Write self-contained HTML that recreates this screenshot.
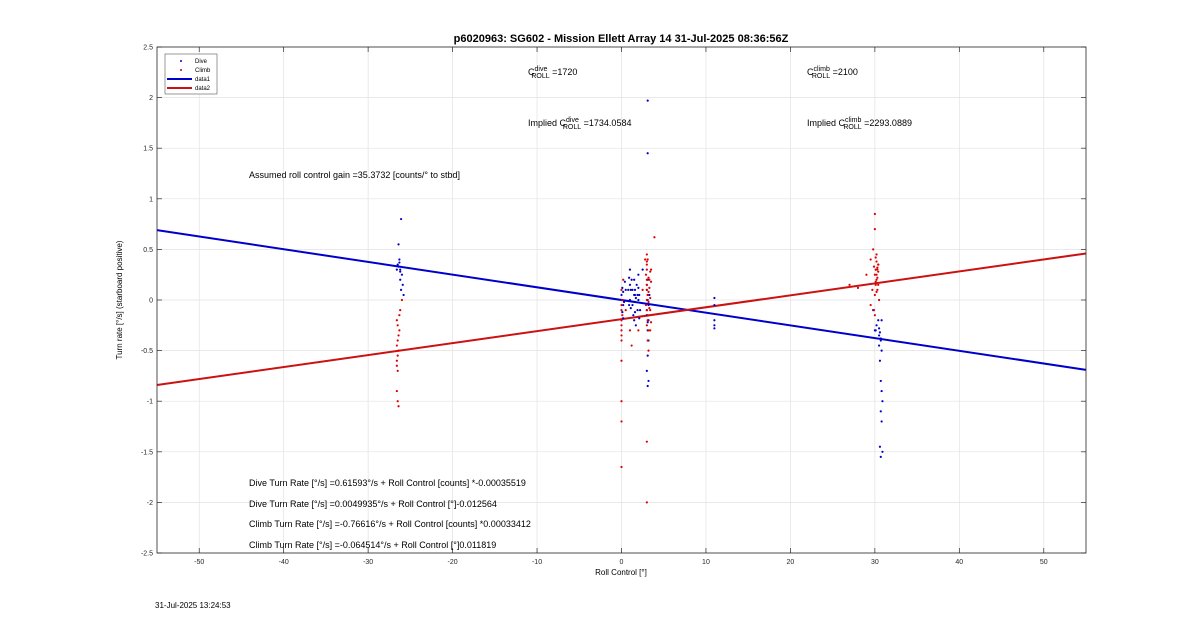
<!DOCTYPE html>
<html><head><meta charset="utf-8"><style>
body{margin:0;background:#fff;font-family:"Liberation Sans",sans-serif}
svg text{font-family:"Liberation Sans",sans-serif}
</style></head><body>
<svg id="chart" width="1200" height="622" xmlns="http://www.w3.org/2000/svg">
<rect width="1200" height="622" fill="#fff"/>
<g id="grid"></g>
<g id="marks"></g>
<rect x="157" y="47" width="929" height="506" fill="none" stroke="#262626" stroke-width="0.8"/>
<g id="ticks"></g>
<text x="621" y="42" text-anchor="middle" font-size="11" font-weight="bold">p6020963: SG602 - Mission Ellett Array 14 31-Jul-2025 08:36:56Z</text>
<text x="621" y="575" text-anchor="middle" font-size="8">Roll Control [°]</text>
<text transform="translate(122,300) rotate(-90)" text-anchor="middle" font-size="8">Turn rate [°/s] (starboard positive)</text>
<g font-size="9">
<text x="528" y="75">C<tspan font-size="7" dy="-4">dive</tspan><tspan font-size="7" dx="-16" dy="7">ROLL</tspan><tspan dy="-3"> =1720</tspan></text>
<text x="807" y="75">C<tspan font-size="7" dy="-4">climb</tspan><tspan font-size="7" dx="-18" dy="7">ROLL</tspan><tspan dy="-3"> =2100</tspan></text>
<text x="528" y="126">Implied C<tspan font-size="7" dy="-4">dive</tspan><tspan font-size="7" dx="-16" dy="7">ROLL</tspan><tspan dy="-3"> =1734.0584</tspan></text>
<text x="807" y="126">Implied C<tspan font-size="7" dy="-4">climb</tspan><tspan font-size="7" dx="-18" dy="7">ROLL</tspan><tspan dy="-3"> =2293.0889</tspan></text>
<text x="249" y="178">Assumed roll control gain =35.3732 [counts/° to stbd]</text>
<text x="249" y="486">Dive Turn Rate [°/s] =0.61593°/s + Roll Control [counts] *-0.00035519</text>
<text x="249" y="507">Dive Turn Rate [°/s] =0.0049935°/s + Roll Control [°]-0.012564</text>
<text x="249" y="527">Climb Turn Rate [°/s] =-0.76616°/s + Roll Control [counts] *0.00033412</text>
<text x="249" y="548">Climb Turn Rate [°/s] =-0.064514°/s + Roll Control [°]0.011819</text>
</g>
<g>
<rect x="165" y="54" width="52" height="40" fill="#fff" stroke="#555" stroke-width="0.6"/>
<circle cx="181" cy="61" r="1" fill="#0000cc"/><text x="195" y="63" font-size="6">Dive</text>
<circle cx="181" cy="70" r="1" fill="#cc0000"/><text x="195" y="72" font-size="6">Climb</text>
<line x1="167" y1="79" x2="192" y2="79" stroke="#0000cc" stroke-width="2"/><text x="195" y="81" font-size="6">data1</text>
<line x1="167" y1="88" x2="192" y2="88" stroke="#cc1111" stroke-width="2"/><text x="195" y="90" font-size="6">data2</text>
</g>
<text x="155" y="608" font-size="8">31-Jul-2025 13:24:53</text>
</svg>
<script>
const xTicks=[-50,-40,-30,-20,-10,0,10,20,30,40,50];
const yTicks=[-2.5,-2,-1.5,-1,-0.5,0,0.5,1,1.5,2,2.5];
const diveX=[-26.5,-26.3,-26.1,-26.4,-26.2,-26,-25.9,-26.6,-26.2,-26.1,-25.8,-26.4,-26.3,-26.2,0,0.2,0.5,1,1.2,1.5,1.8,2,2.2,1.6,1.4,0.8,2.5,3,3.1,3.2,3.1,3,3.2,3.1,3.3,3.1,3.2,11,11,11,11,11,30,30.2,30.5,30.7,30.8,30.6,30.7,30.8,30.9,30.7,30.8,30.6,30.9,30.7,30.8,29.8,30.1,3.1,3.1,
 0.1,0.1,0.2,0.2,0.9,0.9,1,1,1.1,1.1,1.5,1.5,1.6,1.6,1.7,1.7,2,2,2.1,2.1,0.3,0.4,1.3,1.3,1.9,1.9,3,3,3.1,3.1,3.2,30.5,30.6,30.4,30.7,30.5];
const diveY=[0.35,0.4,0.8,0.55,0.3,0.25,0.15,0.3,0.2,0.1,0.05,0.33,0.37,0.28,0.05,-0.05,0.1,0.3,0.2,-0.2,0.15,0.25,-0.1,0.05,-0.15,0.1,0.3,-0.1,-0.3,-0.4,-0.55,-0.7,-0.8,-0.85,0.05,0.2,-0.2,0.02,-0.05,-0.2,-0.25,-0.28,-0.3,-0.25,-0.35,-0.4,-0.5,-0.6,-0.8,-0.9,-1.0,-1.1,-1.2,-1.45,-1.5,-1.55,-0.2,-0.1,-0.3,1.97,1.45,
 0.12,-0.12,0.08,-0.18,0.22,-0.05,0.0,0.15,-0.08,0.1,0.05,0.2,-0.12,0.1,0.02,-0.25,0.0,0.12,0.05,-0.18,-0.02,0.18,0.1,-0.05,0.05,-0.1,0.1,-0.15,0.0,-0.22,-0.05,-0.28,-0.32,-0.2,-0.38,-0.45];
const climbX=[-26.6,-26.5,-26.4,-26.6,-26.5,-26.3,-26.6,-26.5,-26.4,-26.2,-26,-26.6,-26.5,-26.4,-26.5,-26.6,-26.3,0,0,0,0,0,0,0,0,0,0.2,0.5,1,1.2,2,2.5,2.8,3,3,3,3,3,3,3.1,3.2,3.3,3.4,3.5,3.1,3,3.2,3,3,3.1,3.9,29,29.5,29.8,30,30,30.1,30.2,30.3,30.4,30.5,29.9,30.1,30.2,30.3,30,29.7,29.5,28,27,30,30.2,30.4,
 0,0,0,0.1,0.1,2.9,2.9,3,3,3,3.1,3.1,3.1,3.2,3.2,3.3,3.3,3.4,3.4,3.5,3.5,3,3.2,3.4,30,30.1,30.2,30.3,30.4,30.2,30.1,30.3,29.9,30.4];
const climbY=[-0.2,-0.4,-0.5,-0.6,-0.7,-0.3,-0.9,-1.0,-1.05,-0.1,0,-0.45,-0.55,-0.35,-0.25,-0.65,-0.15,-0.05,-0.1,-0.2,-0.3,-0.4,-0.6,-1.0,-1.2,-1.65,0.2,-0.1,-0.3,-0.45,-0.3,0.1,0.4,0.45,0.3,0.2,0.1,0,-0.1,-0.2,-0.3,0.2,-0.1,0.3,-0.4,-1.4,-0.5,-2.0,0.15,0.05,0.62,0.25,0.4,0.5,0.85,0.7,0.3,0.2,0.1,0.35,0.0,-0.1,0.15,0.25,0.3,0.05,0.1,-0.05,0.12,0.15,-0.15,0.45,0.35,
 0.1,-0.25,-0.35,0.0,-0.15,0.25,-0.05,0.35,0.15,-0.25,0.4,0.05,-0.15,0.22,-0.02,0.12,-0.08,0.28,0.02,0.18,-0.22,0.38,0.08,-0.3,0.25,0.18,0.08,0.32,0.28,0.38,0.42,0.22,0.33,0.15];
const diveFitX=[-55,55], diveFitY=[0.69,-0.69];
const climbFitX=[-55,55], climbFitY=[-0.84,0.46];
const L=157,R=1086,T=47,B=553;
const sx=v=>L+(v+55)/110*(R-L), sy=v=>B-(v+2.5)/5*(B-T);
const NS='http://www.w3.org/2000/svg';
function mk(p,t,a){const e=document.createElementNS(NS,t);for(const k in a)e.setAttribute(k,a[k]);p.appendChild(e);return e;}
const grid=document.getElementById('grid'),ticks=document.getElementById('ticks'),marks=document.getElementById('marks');
xTicks.forEach(v=>{const x=sx(v);
 const g=mk(grid,'line',{x1:x,x2:x,y1:T,y2:B,stroke:'#e2e2e2','stroke-width':0.7});
 
 mk(ticks,'line',{x1:x,x2:x,y1:B,y2:B-5,stroke:'#262626','stroke-width':0.7});
 mk(ticks,'line',{x1:x,x2:x,y1:T,y2:T+5,stroke:'#262626','stroke-width':0.7});
 const t=mk(ticks,'text',{x:x,y:B+11,'text-anchor':'middle','font-size':7,fill:'#262626'});t.textContent=v;
 });
yTicks.forEach(v=>{const y=sy(v);
 const g=mk(grid,'line',{x1:L,x2:R,y1:y,y2:y,stroke:'#e2e2e2','stroke-width':0.7});
 
 mk(ticks,'line',{x1:L,x2:L+5,y1:y,y2:y,stroke:'#262626','stroke-width':0.7});
 mk(ticks,'line',{x1:R,x2:R-5,y1:y,y2:y,stroke:'#262626','stroke-width':0.7});
 const t=mk(ticks,'text',{x:L-4,y:y+2.5,'text-anchor':'end','font-size':7,fill:'#262626'});t.textContent=v;
 });
const l1=mk(marks,'line',{x1:sx(diveFitX[0]),y1:sy(diveFitY[0]),x2:sx(diveFitX[1]),y2:sy(diveFitY[1]),stroke:'#0000cc','stroke-width':2});

const l2=mk(marks,'line',{x1:sx(climbFitX[0]),y1:sy(climbFitY[0]),x2:sx(climbFitX[1]),y2:sy(climbFitY[1]),stroke:'#cc1111','stroke-width':2});

diveX.forEach((v,i)=>{const c=mk(marks,'circle',{cx:sx(v),cy:sy(diveY[i]),r:1.1,fill:'#0000cc'});
 });
climbX.forEach((v,i)=>{const c=mk(marks,'circle',{cx:sx(v),cy:sy(climbY[i]),r:1.1,fill:'#dd0000'});
 });
</script>
</body></html>
